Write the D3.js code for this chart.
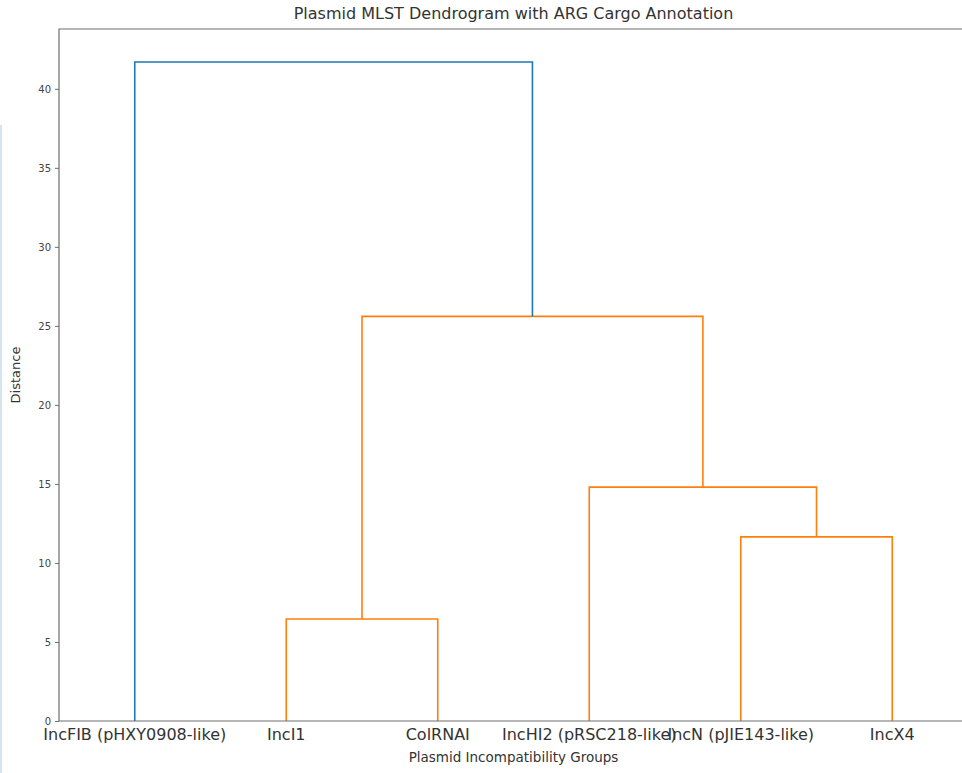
<!DOCTYPE html>
<html>
<head>
<meta charset="utf-8">
<script src="https://cdn.jsdelivr.net/npm/d3@7"></script>
<style>
  html, body { margin: 0; padding: 0; background: #fff; }
  svg { display: block; font-family: "DejaVu Sans", sans-serif; }
</style>
</head>
<body>
<div id="chart"></div>
<script>
// leaves in dendrogram order
const leaves = ["IncFIB (pHXY0908-like)", "IncI1", "ColRNAI", "IncHI2 (pRSC218-like)", "IncN (pJIE143-like)", "IncX4"];
// scipy-style linkage: [left id, right id, height]; ids >= leaves.length are earlier merges
const merges = [
  [1, 2, 6.45],
  [4, 5, 11.65],
  [3, 7, 14.8],
  [6, 8, 25.6],
  [0, 9, 41.7]
];
const linkColors = ["#ff7f0e", "#ff7f0e", "#ff7f0e", "#ff7f0e", "#1f77b4"];
const yTicks = [0, 5, 10, 15, 20, 25, 30, 35, 40];

const width = 962, height = 773;
const marginTop = 29, marginBottom = 52, marginLeft = 59;
const plotRight = 968; // axes extend a little past the window edge

const svg = d3.select("#chart").append("svg")
  .attr("width", width)
  .attr("height", height)
  .attr("viewBox", [0, 0, width, height]);

// faint strip on the left edge of the screenshot
svg.append("rect")
  .attr("x", 0).attr("y", 125).attr("width", 2).attr("height", height - 125)
  .attr("fill", "#d6e4f0");

const maxH = d3.max(merges, d => d[2]);

const x = d3.scaleLinear()
  .domain([0, leaves.length * 10])
  .range([marginLeft, plotRight]);

const y = d3.scaleLinear()
  .domain([0, maxH * 1.05])
  .range([height - marginBottom, marginTop]);

// node positions: leaves at 5, 15, 25...; internal nodes at mean of children
const nodes = leaves.map((name, i) => ({ x: 5 + i * 10, h: 0 }));
merges.forEach(([a, b, h]) => {
  nodes.push({ x: (nodes[a].x + nodes[b].x) / 2, h: h });
});

// links
svg.append("g")
  .attr("fill", "none")
  .attr("stroke-width", 1.6)
  .selectAll("path")
  .data(merges)
  .join("path")
  .attr("stroke", (d, i) => linkColors[i])
  .attr("d", ([a, b, h]) => {
    const na = nodes[a], nb = nodes[b];
    return `M${x(na.x)},${y(na.h)}V${y(h)}H${x(nb.x)}V${y(nb.h)}`;
  });

// spines
const spine = "#6e6e6e";
svg.append("path")
  .attr("fill", "none")
  .attr("stroke", spine)
  .attr("stroke-width", 1.2)
  .attr("d", `M${plotRight},${marginTop}H${marginLeft}V${height - marginBottom}H${plotRight}`);

// y axis
svg.append("g")
  .attr("transform", `translate(${marginLeft},0)`)
  .call(d3.axisLeft(y).tickValues(yTicks).tickSize(4).tickPadding(4))
  .call(g => g.select(".domain").remove())
  .call(g => g.selectAll(".tick line").attr("stroke", spine))
  .call(g => g.selectAll(".tick text")
    .attr("fill", "#444")
    .attr("font-family", "DejaVu Sans, sans-serif")
    .attr("font-size", 10));

// leaf labels
svg.append("g")
  .selectAll("text")
  .data(leaves)
  .join("text")
  .attr("x", (d, i) => x(nodes[i].x))
  .attr("y", 740)
  .attr("text-anchor", "middle")
  .attr("font-size", 16)
  .attr("fill", "#333")
  .text(d => d);

// title
svg.append("text")
  .attr("x", (marginLeft + plotRight) / 2)
  .attr("y", 19)
  .attr("text-anchor", "middle")
  .attr("font-size", 16)
  .attr("fill", "#333")
  .text("Plasmid MLST Dendrogram with ARG Cargo Annotation");

// axis labels
svg.append("text")
  .attr("x", (marginLeft + plotRight) / 2)
  .attr("y", 762)
  .attr("text-anchor", "middle")
  .attr("font-size", 13.5)
  .attr("fill", "#333")
  .text("Plasmid Incompatibility Groups");

svg.append("text")
  .attr("transform", `translate(20,375) rotate(-90)`)
  .attr("text-anchor", "middle")
  .attr("font-size", 13)
  .attr("fill", "#333")
  .text("Distance");
</script>
</body>
</html>
